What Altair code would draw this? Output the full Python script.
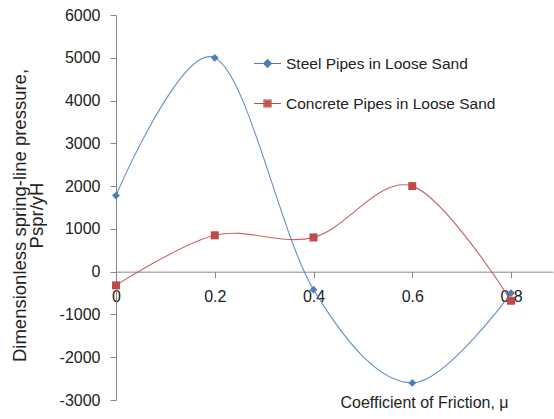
import altair as alt
import pandas as pd

friction = [0, 0.2, 0.4, 0.6, 0.8]
steel = [1780, 5000, -420, -2600, -500]
concrete = [-320, 850, 800, 2000, -680]
series_names = ["Steel Pipes in Loose Sand", "Concrete Pipes in Loose Sand"]
colors = ["#4a7ebb", "#be4b48"]
marker_shapes = ["diamond", "square"]
marker_sizes = [60, 64]
x_ticks = [0, 0.2, 0.4, 0.6, 0.8]
y_ticks = [-3000, -2000, -1000, 0, 1000, 2000, 3000, 4000, 5000, 6000]

rows = []
for s, vals in zip(series_names, [steel, concrete]):
    for xv, yv in zip(friction, vals):
        rows.append({"mu": xv, "p": yv, "series": s})
df = pd.DataFrame(rows)

W, H = 437, 385
FONT = "Liberation Sans"

x_enc = alt.X(
    "mu:Q",
    scale=alt.Scale(domain=[0, 0.885], nice=False, zero=False),
    axis=alt.Axis(
        values=x_ticks, format="~g", offset=-H * 3000 / 9000,
        title="Coefficient of Friction, μ", titleX=308, titleY=131,
        titleAlign="center", titleBaseline="middle", titleFontWeight="normal",
        titleFontSize=16, grid=False, tickSize=6, labelPadding=11,
        labelFontSize=16, labelFlush=False,
    ),
)
y_enc = alt.Y(
    "p:Q",
    scale=alt.Scale(domain=[-3000, 6000], nice=False),
    axis=alt.Axis(
        values=y_ticks, format="d", grid=False, tickSize=6, labelPadding=10,
        labelFontSize=16, labelExpr="replace(datum.label, '\u2212', '-')",
        title=["Dimensionless spring-line pressure,", "Pspr/yH"],
        titleX=-91, titleY=200, titleAngle=-90, titleAlign="center",
        titleBaseline="alphabetic", titleLineHeight=17, titleFontSize=18.5,
        titleFontWeight="normal",
    ),
)

base = alt.Chart(df)

layers = []
for name, col in zip(series_names, colors):
    layers.append(
        base.transform_filter(alt.datum.series == name)
        .mark_line(interpolate="cardinal", strokeWidth=1.1, color=col, opacity=0.85)
        .encode(x=x_enc, y=y_enc)
    )
for name, col, shp, sz in zip(series_names, colors, marker_shapes, marker_sizes):
    layers.append(
        base.transform_filter(alt.datum.series == name)
        .mark_point(filled=True, opacity=1, shape=shp, size=sz, color=col)
        .encode(x=x_enc, y=y_enc)
    )

# legend symbols: a short line with a marker drawn by nested outlines
leg_paths = [
    "M-1,0H1"
    "M0,-0.28L0.28,0L0,0.28L-0.28,0Z"
    "M0,-0.18L0.18,0L0,0.18L-0.18,0Z"
    "M0,-0.08L0.08,0L0,0.08L-0.08,0Z",
    "M-1,0H1"
    "M-0.26,-0.26H0.26V0.26H-0.26Z"
    "M-0.16,-0.16H0.16V0.16H-0.16Z"
    "M-0.06,-0.06H0.06V0.06H-0.06Z",
]
legend_def = alt.Legend(
    title=None, orient="none", legendX=137, legendY=34, symbolSize=729,
    symbolStrokeWidth=1.2, symbolOpacity=1, labelFontSize=15.5, labelOffset=4,
    rowPadding=17, labelColor="#222", labelLimit=1000,
)
legend_layer = base.mark_point(filled=False, opacity=0).encode(
    x=x_enc, y=y_enc,
    stroke=alt.Stroke("series:N", scale=alt.Scale(domain=series_names, range=colors), legend=legend_def),
    shape=alt.Shape("series:N", scale=alt.Scale(domain=series_names, range=leg_paths), legend=legend_def),
)
layers.append(legend_layer)

chart = alt.layer(*layers).properties(
    width=W, height=H,
    autosize=alt.AutoSizeParams(type="none"),
    padding={"left": 116, "top": 15, "right": 1, "bottom": 19},
).configure_view(stroke=None).configure_axis(
    domainColor="#868686", tickColor="#868686", labelColor="#222",
    titleColor="#222", labelFont=FONT, titleFont=FONT,
).configure_legend(labelFont=FONT)

chart.save("out.html", embed_options={"renderer": "svg", "actions": False})
